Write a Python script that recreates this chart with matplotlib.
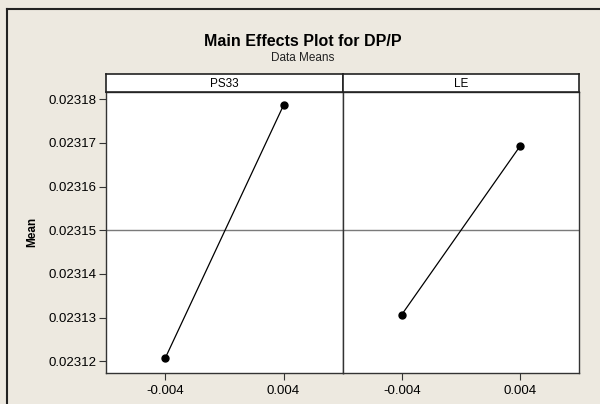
import matplotlib
matplotlib.use("Agg")
import matplotlib.pyplot as plt
from matplotlib.lines import Line2D
from matplotlib.ticker import FixedLocator

plt.rcParams['font.family'] = ['Liberation Sans', 'DejaVu Sans']

factors = ["PS33", "LE"]
levels = [-0.004, 0.004]
level_labels = ["-0.004", "0.004"]
ps33_means = [0.0231207, 0.0231786]
le_means = [0.0231307, 0.0231692]
grand_mean = 0.02315
y_ticks = [0.02312, 0.02313, 0.02314, 0.02315, 0.02316, 0.02317, 0.02318]
y_tick_labels = ["0.02312", "0.02313", "0.02314", "0.02315", "0.02316", "0.02317", "0.02318"]

W, H = 600, 404
bg = '#EDE9E0'
fig = plt.figure(figsize=(W / 100, H / 100), dpi=100, facecolor=bg)

def fx(px):
    return px / W

def fy(py):
    return 1 - py / H

# outer frame (top and left edges visible)
fig.add_artist(Line2D([fx(7), 1], [fy(9), fy(9)], color='#222222', lw=1.5, transform=fig.transFigure))
fig.add_artist(Line2D([fx(7), fx(7)], [0, fy(9)], color='#222222', lw=1.5, transform=fig.transFigure))

fig.text(0.505, fy(41), "Main Effects Plot for DP/P", ha='center', va='center',
         fontsize=11.5, fontweight='bold', color='black')
fig.text(0.505, fy(58), "Data Means", ha='center', va='center', fontsize=8.5, color='#222222')

left, mid, right = 106, 342.7, 579
top_plot, bottom_plot, top_strip = 91.7, 372.7, 74
ylim = (0.0231174, 0.0231817)

series = [ps33_means, le_means]
panels = [(left, mid), (mid, right)]
axes = []
for i, (name, vals, (x0, x1)) in enumerate(zip(factors, series, panels)):
    ax = fig.add_axes([fx(x0), fy(bottom_plot), fx(x1) - fx(x0), fy(top_plot) - fy(bottom_plot)])
    ax.set_facecolor('white')
    ax.set_xlim(-0.008, 0.008)
    ax.set_ylim(*ylim)
    ax.axhline(grand_mean, color='#7a7a7a', lw=1.0, zorder=1)
    ax.plot(levels, vals, color='black', lw=0.9, marker='o', markersize=5, zorder=3)
    ax.xaxis.set_major_locator(FixedLocator(levels))
    ax.set_xticklabels(level_labels, fontsize=9.5)
    for s in ax.spines.values():
        s.set_color('#333333')
        s.set_linewidth(1.0)
    ax.tick_params(axis='both', direction='out', length=5, width=0.8, color='#333333',
                   labelsize=9.5, pad=1.5)
    ax.tick_params(axis='x', pad=4)
    if i == 0:
        ax.yaxis.set_major_locator(FixedLocator(y_ticks))
        ax.set_yticklabels(y_tick_labels, fontsize=9.5)
        ax.set_ylabel("Mean", fontsize=8.5, fontweight='bold')
    else:
        ax.set_yticks([])
    # strip
    sax = fig.add_axes([fx(x0), fy(top_plot), fx(x1) - fx(x0), fy(top_strip) - fy(top_plot)])
    sax.set_facecolor('white')
    sax.set_xticks([])
    sax.set_yticks([])
    for s in sax.spines.values():
        s.set_color('#222222')
        s.set_linewidth(1.2)
    sax.text(0.5, 0.45, name, ha='center', va='center', fontsize=8.5, transform=sax.transAxes)
    axes.append(ax)

axes[0].yaxis.set_label_coords(-0.287, 0.5)

fig.savefig("out.png", dpi=100, facecolor=bg)
